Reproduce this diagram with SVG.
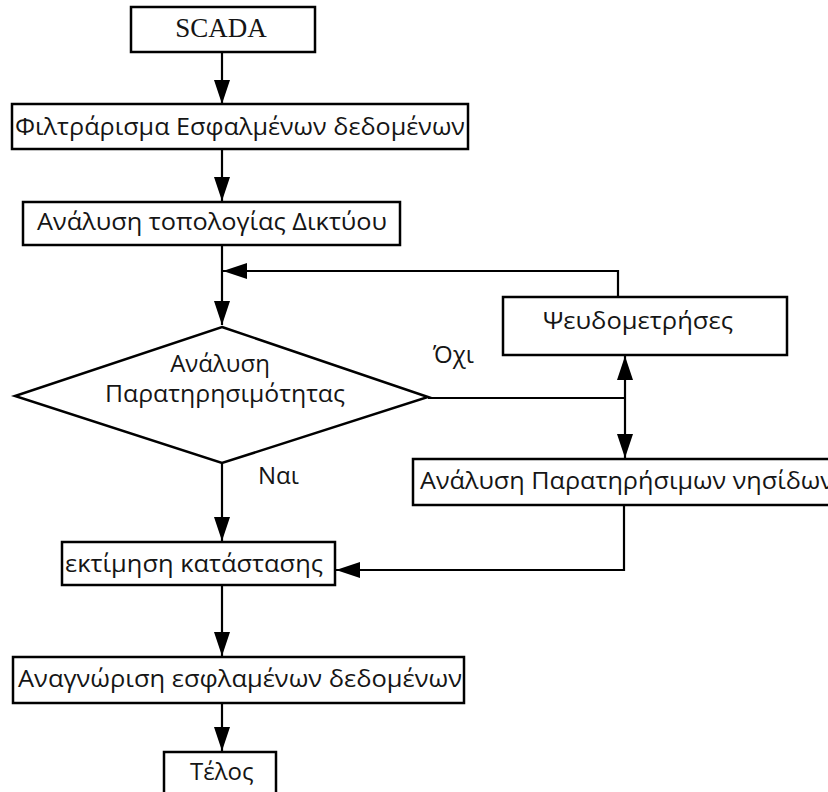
<svg xmlns="http://www.w3.org/2000/svg" width="828" height="792" viewBox="0 0 828 792">
  <defs>
    <marker id="arrow" viewBox="0 0 24 16" refX="24" refY="8" markerWidth="24" markerHeight="16" markerUnits="userSpaceOnUse" orient="auto-start-reverse">
      <path d="M0,0 L24,8 L0,16 Z" fill="#000"/>
    </marker>
    <style>
      .box { fill: #fff; stroke: #000; stroke-width: 2.5; }
      .line { fill: none; stroke: #000; stroke-width: 2.2; }
      .lbl { font-family: "Open Sans", "Noto Sans", "DejaVu Sans", sans-serif; font-size: 24px; fill: #151515; }
      .serif { font-family: "Liberation Serif", "Times New Roman", serif; font-size: 27px; fill: #151515; }
    </style>
  </defs>
  <rect width="828" height="792" fill="#fff"/>

  <!-- connectors -->
  <g id="connectors">
    <line class="line" x1="222" y1="52" x2="222" y2="104" marker-end="url(#arrow)"/>
    <line class="line" x1="222" y1="149" x2="222" y2="201" marker-end="url(#arrow)"/>
    <line class="line" x1="222" y1="245" x2="222" y2="325" marker-end="url(#arrow)"/>
    <!-- feedback loop from pseudo-measurements -->
    <polyline class="line" points="618,297 618,271 223,271" marker-end="url(#arrow)"/>
    <!-- "No" branch -->
    <polyline class="line" points="428,398 625,398"/>
    <line class="line" x1="625" y1="356" x2="625" y2="458" marker-start="url(#arrow)" marker-end="url(#arrow)"/>
    <!-- "Yes" branch -->
    <line class="line" x1="222" y1="463" x2="222" y2="541" marker-end="url(#arrow)"/>
    <!-- islands analysis back to estimation -->
    <polyline class="line" points="624,505 624,570 336,570" marker-end="url(#arrow)"/>
    <line class="line" x1="222" y1="585" x2="222" y2="656" marker-end="url(#arrow)"/>
    <line class="line" x1="222" y1="703" x2="222" y2="751" marker-end="url(#arrow)"/>
    <text class="lbl" x="433" y="363">Όχι</text>
    <text class="lbl" x="258" y="484">Ναι</text>
  </g>

  <g id="scada">
    <rect class="box" x="131" y="7" width="184" height="45"/>
    <text class="serif" x="221" y="37" text-anchor="middle">SCADA</text>
  </g>

  <g id="filtering">
    <rect class="box" x="12" y="104" width="456" height="45" stroke-width="3"/>
    <text class="lbl" x="15" y="135" textLength="450" lengthAdjust="spacingAndGlyphs">Φιλτράρισμα Εσφαλμένων δεδομένων</text>
  </g>

  <g id="topology">
    <rect class="box" x="23" y="202" width="377" height="43"/>
    <text class="lbl" x="37" y="230" textLength="350" lengthAdjust="spacingAndGlyphs">Ανάλυση τοπολογίας Δικτύου</text>
  </g>

  <g id="observability">
    <polygon class="box" points="222,327 428,397 222,463 15,396"/>
    <text class="lbl" x="220" y="372" text-anchor="middle">Ανάλυση</text>
    <text class="lbl" x="105" y="402" textLength="240" lengthAdjust="spacingAndGlyphs">Παρατηρησιμότητας</text>
  </g>

  <g id="pseudo">
    <rect class="box" x="503" y="297" width="284" height="58"/>
    <text class="lbl" x="543" y="329" textLength="190" lengthAdjust="spacingAndGlyphs">Ψευδομετρήσες</text>
  </g>

  <g id="islands">
    <rect class="box" x="413" y="459" width="430" height="46"/>
    <text class="lbl" x="420" y="489" textLength="414" lengthAdjust="spacingAndGlyphs">Ανάλυση Παρατηρήσιμων νησίδων</text>
  </g>

  <g id="estimation">
    <rect class="box" x="62" y="542" width="273" height="43"/>
    <text class="lbl" x="65" y="572" textLength="258" lengthAdjust="spacingAndGlyphs">εκτίμηση κατάστασης</text>
  </g>

  <g id="bad-data">
    <rect class="box" x="13" y="657" width="451" height="46" stroke-width="3"/>
    <text class="lbl" x="18" y="687" textLength="444" lengthAdjust="spacingAndGlyphs">Αναγνώριση εσφλαμένων δεδομένων</text>
  </g>

  <g id="end">
    <rect class="box" x="164" y="752" width="112" height="60"/>
    <text class="lbl" x="190" y="780">Τέλος</text>
  </g>
</svg>
